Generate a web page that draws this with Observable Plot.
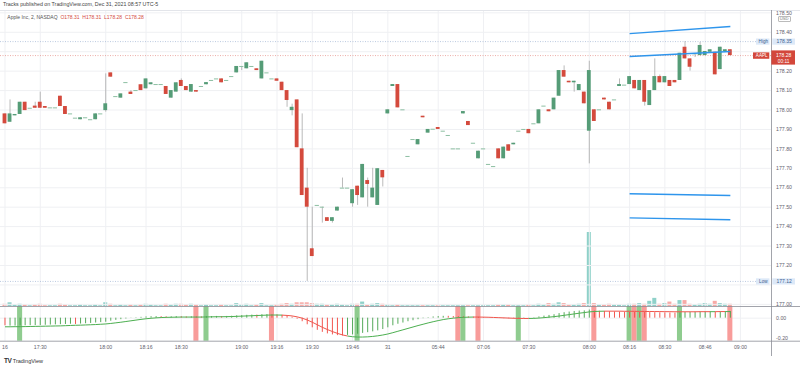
<!DOCTYPE html>
<html><head><meta charset="utf-8">
<script src="https://cdn.jsdelivr.net/npm/d3@7"></script>
<script src="https://cdn.jsdelivr.net/npm/@observablehq/plot@0.6"></script>
<style>
body{margin:0;background:#fff;}
#wrap{position:relative;width:800px;height:368px;overflow:hidden;font-family:"Liberation Sans",Arial,sans-serif;background:#fff;}
#wrap svg{position:absolute;left:0;}
.hd{position:absolute;white-space:nowrap;}
</style></head><body><div id="wrap"></div>
<script>
// ---------- data (2-minute bars, index 0..144) ----------
const opens = [177.980,177.937,177.970,177.977,178.040,178.009,178.020,178.040,178.018,178.011,
178.011,178.071,178.018,177.980,177.958,177.950,177.960,177.950,177.950,177.980,
177.997,178.191,178.069,178.061,178.141,178.092,178.100,178.130,178.109,178.130,
178.131,178.131,178.121,178.061,178.092,178.152,178.121,178.092,178.100,178.121,
178.130,178.152,178.160,178.160,178.152,178.172,178.191,178.224,178.212,178.224,
178.212,178.160,178.191,178.160,178.160,178.143,178.100,177.997,178.052,177.800,
177.598,177.286,177.509,177.500,177.446,177.427,177.480,177.598,177.598,177.518,
177.608,177.548,177.637,177.548,177.509,177.689,177.980,178.121,178.131,178.001,
177.761,177.848,177.821,177.968,177.881,177.901,177.910,177.891,177.869,177.800,
177.800,177.980,177.941,177.829,177.749,177.800,177.720,177.709,177.800,177.749,
177.821,177.821,177.891,177.900,177.900,177.929,177.929,178.020,178.001,178.001,
178.071,178.203,178.148,178.140,178.100,178.092,177.891,178.001,178.001,178.061,
178.040,178.052,178.121,178.128,178.131,178.152,178.100,178.152,178.023,178.100,
178.172,178.140,178.152,178.152,178.152,178.323,178.263,178.289,178.280,178.280,
178.297,178.297,178.208,178.301,178.310];
const closes = [177.929,177.980,177.977,178.040,177.997,178.009,178.009,178.009,178.009,178.011,
178.011,178.018,177.977,177.980,177.958,177.960,177.960,177.950,177.980,177.980,
178.032,178.169,178.069,178.083,178.141,178.080,178.100,178.100,178.160,178.140,
178.131,178.131,178.080,178.100,178.140,178.121,178.100,178.131,178.092,178.121,
178.141,178.152,178.160,178.140,178.152,178.172,178.224,178.224,178.243,178.224,
178.203,178.251,178.191,178.160,178.148,178.100,178.049,178.014,177.806,177.560,
177.500,177.246,177.509,177.500,177.427,177.446,177.500,177.598,177.598,177.590,
177.560,177.720,177.617,177.598,177.698,177.651,178.001,178.131,178.011,178.001,
177.761,177.848,177.848,177.960,177.900,177.901,177.900,177.891,177.869,177.800,
177.800,177.992,177.920,177.829,177.788,177.800,177.720,177.709,177.749,177.809,
177.788,177.829,177.891,177.900,177.878,177.929,178.001,178.020,177.991,178.061,
178.203,178.169,178.140,178.148,178.131,178.032,178.203,177.941,178.001,178.052,
178.001,178.052,178.131,178.128,178.172,178.109,178.152,178.040,178.100,178.172,
178.140,178.172,178.121,178.140,178.292,178.263,178.220,178.289,178.332,178.301,
178.310,178.181,178.323,178.310,178.280];
const highs = [177.980,178.052,177.977,178.040,178.040,178.009,178.040,178.092,178.018,178.011,
178.011,178.071,178.018,177.980,177.958,177.960,177.960,177.950,177.980,177.980,
178.186,178.191,178.069,178.083,178.141,178.100,178.100,178.130,178.160,178.140,
178.131,178.131,178.121,178.100,178.140,178.160,178.121,178.131,178.100,178.121,
178.141,178.152,178.160,178.160,178.152,178.172,178.224,178.224,178.243,178.224,
178.212,178.251,178.191,178.160,178.160,178.143,178.100,178.030,178.052,177.980,
177.700,177.500,177.509,177.500,177.446,177.446,177.500,177.650,177.598,177.590,
177.608,177.720,177.650,177.700,177.698,177.689,178.001,178.131,178.131,178.001,
177.761,177.848,177.848,177.968,177.900,177.901,177.910,177.891,177.869,177.800,
177.800,177.992,177.941,177.829,177.788,177.800,177.720,177.709,177.800,177.809,
177.821,177.829,177.891,177.900,177.900,177.929,178.001,178.020,178.001,178.061,
178.203,178.227,178.148,178.148,178.131,178.092,178.251,178.001,178.001,178.061,
178.040,178.052,178.160,178.128,178.172,178.152,178.152,178.152,178.100,178.263,
178.180,178.172,178.152,178.152,178.292,178.352,178.263,178.289,178.348,178.301,
178.310,178.297,178.323,178.310,178.310];
const lows = [177.929,177.937,177.970,177.977,177.997,178.009,178.009,178.009,178.009,178.011,
178.011,178.018,177.977,177.980,177.958,177.950,177.960,177.950,177.950,177.980,
177.989,178.169,178.069,178.061,178.141,178.080,178.100,178.100,178.109,178.130,
178.131,178.131,178.080,178.061,178.092,178.121,178.100,178.092,178.092,178.121,
178.130,178.152,178.160,178.140,178.152,178.172,178.191,178.203,178.212,178.224,
178.203,178.160,178.191,178.160,178.148,178.100,178.014,177.970,177.806,177.560,
177.118,177.246,177.509,177.418,177.427,177.418,177.480,177.598,177.598,177.500,
177.509,177.548,177.500,177.548,177.509,177.604,177.980,178.121,178.011,178.001,
177.761,177.848,177.821,177.960,177.881,177.901,177.900,177.891,177.869,177.800,
177.800,177.980,177.920,177.829,177.749,177.800,177.720,177.709,177.749,177.749,
177.788,177.821,177.891,177.900,177.878,177.929,177.929,178.020,177.991,178.001,
178.071,178.169,178.140,178.092,178.100,178.032,177.723,177.941,178.001,178.052,
178.001,178.052,178.121,178.128,178.131,178.109,178.100,178.020,178.023,178.100,
178.140,178.140,178.121,178.140,178.152,178.263,178.200,178.270,178.280,178.280,
178.297,178.181,178.208,178.301,178.280];
const volumes = [3,5,2,3,2,1,2,3,1,1, 1,3,2,1,1,2,1,1,2,1, 5,3,1,2,1,2,1,2,3,2,
1,1,3,2,3,3,2,3,2,1, 2,1,1,2,1,1,4,2,3,1, 2,4,1,1,2,3,4,3,5,5,
5,4,3,3,2,2,3,2,1,3, 3,6,2,3,4,3,2,1,2,1, 1,1,1,1,1,1,1,1,1,1,
1,1,1,1,1,1,1,1,2,2, 2,1,1,1,2,1,3,2,4,3, 5,4,2,2,3,4,100,4,2,2,
3,2,2,1,3,3,4,3,7,11, 3,4,6,3,8,8,3,2,3,4, 3,7,4,3,3];
// oscillator histogram, its colour flags and the slower signal line
const oscValues = [-0.075,-0.078,-0.078,-0.076,-0.075,-0.074,-0.073,-0.072,-0.070,-0.068,
-0.066,-0.064,-0.062,-0.060,-0.062,-0.058,-0.055,-0.052,-0.048,-0.044,
-0.040,-0.030,-0.022,-0.015,-0.008,-0.002,0.004,0.008,0.012,0.014,
0.015,0.015,0.013,0.013,0.015,0.014,0.012,0.013,0.012,0.012,
0.014,0.016,0.017,0.016,0.017,0.019,0.023,0.025,0.028,0.030,
0.030,0.034,0.035,0.034,0.032,0.028,0.020,0.010,-0.010,-0.035,
-0.065,-0.095,-0.120,-0.140,-0.155,-0.165,-0.172,-0.175,-0.170,-0.165,
-0.158,-0.150,-0.143,-0.135,-0.125,-0.112,-0.095,-0.075,-0.060,-0.048,
-0.035,-0.025,-0.015,-0.005,0.005,0.012,0.016,0.018,0.018,0.016,
0.014,0.013,0.012,0.010,0.008,0.006,0.003,0.000,-0.003,-0.005,
-0.007,-0.008,-0.008,-0.006,-0.002,0.004,0.012,0.020,0.027,0.034,
0.045,0.054,0.060,0.066,0.070,0.072,0.080,0.070,0.068,0.066,
0.064,0.062,0.061,0.060,0.059,0.058,0.057,0.056,0.055,0.054,
0.053,0.052,0.051,0.050,0.053,0.056,0.058,0.060,0.062,0.063,
0.064,0.062,0.064,0.065,0.065];
const oscColors = ("rggggggggg"+"ggggrggggg"+"gggggggggg"+"grrggrrgrr"+"gggrgggggg"+
"rggrrrrrrr"+"rrrrrrrrgg"+"gggggggggg"+"ggggggggrr"+"rrrrrrrrrr"+
"rrrggggggg"+"gggggggrrr"+"rrrrrrrrrr"+"rrrrgggggg"+"grggg").split("");
const signalValues = [-0.085,-0.085,-0.084,-0.084,-0.083,-0.082,-0.081,-0.080,-0.079,-0.078,
-0.077,-0.076,-0.074,-0.072,-0.070,-0.069,-0.067,-0.065,-0.063,-0.060,
-0.057,-0.052,-0.046,-0.040,-0.033,-0.026,-0.019,-0.012,-0.006,-0.001,
0.003,0.006,0.008,0.009,0.010,0.011,0.011,0.011,0.011,0.011,
0.012,0.013,0.014,0.014,0.015,0.016,0.018,0.020,0.022,0.024,
0.026,0.028,0.030,0.031,0.031,0.030,0.027,0.022,0.013,0.000,
-0.018,-0.040,-0.065,-0.090,-0.112,-0.132,-0.150,-0.165,-0.176,-0.183,
-0.186,-0.186,-0.184,-0.180,-0.174,-0.166,-0.156,-0.143,-0.129,-0.115,
-0.101,-0.087,-0.073,-0.060,-0.047,-0.035,-0.024,-0.014,-0.006,0.000,
0.005,0.008,0.010,0.011,0.011,0.010,0.009,0.007,0.005,0.003,
0.001,-0.001,-0.002,-0.003,-0.003,-0.002,0.001,0.005,0.010,0.015,
0.021,0.028,0.035,0.042,0.049,0.055,0.062,0.066,0.068,0.069,
0.069,0.069,0.069,0.068,0.068,0.067,0.067,0.066,0.066,0.065,
0.065,0.064,0.064,0.063,0.063,0.063,0.063,0.063,0.064,0.064,
0.064,0.064,0.065,0.065,0.065];
const signalBarIndex = [3,38,40,53,70,90,91,94,102,117,124,125,126,127,134,144];
const signalBarColor = ["g","r","g","r","g","r","g","r","g","r","g","r","g","r","g","r"];
const tickIndex = [0,7,20,28,35,47,54,61,69,76,86,95,104,116,124,131,139,146];
const tickLabels = ["16","17:30","18:00","18:16","18:30","19:00","19:16","19:30","19:46","31","05:44","07:06","07:30","08:00","08:16","08:30","08:46","09:00"];
const priceTicks = [177.0,177.1,177.2,177.3,177.4,177.5,177.6,177.7,177.8,177.9,178.0,178.1,178.2,178.3,178.4,178.5];
const priceLabelTicks = [177.0,177.2,177.3,177.4,177.5,177.6,177.7,177.8,177.9,178.0,178.1,178.2,178.4,178.5];
const oscTicks = [0,-0.2];
// user-drawn trend lines: start bar, start price, end bar, end price
const lineStartBar = [124,124,124,124];
const lineStartPrice = [178.393,178.275,177.569,177.445];
const lineEndBar = [144,144,144,144];
const lineEndPrice = [178.430,178.301,177.560,177.435];

// ---------- layout ----------
const X0 = -0.893, X1 = 152.17, FRAME_W = 771;
const yMain = [176.989, 178.512];
const yOsc = [-0.227, 0.115];
const MAIN_TOP = 10, MAIN_H = 296;
const ix = px => X0 + px / FRAME_W * (X1 - X0);                  // page px -> bar index
const pMain = py => yMain[1] - (py - MAIN_TOP) / MAIN_H * (yMain[1] - yMain[0]); // page y -> price
const OSC_TOP = 305, OSC_MT = 1, OSC_IH = 34.7, OSC_H = 63;
const pOsc = py => yOsc[1] - (py - OSC_TOP - OSC_MT) / OSC_IH * (yOsc[1] - yOsc[0]);

const UP = "#559c77", DN = "#d44a3d", WICK = "#a8a8a8", GRID = "#eff0f3";
const FONT = "'Liberation Sans', Arial, sans-serif";
const AX = "#5f626d";
const FS = "5.2px";

const candles = opens.map((o, i) => ({i, o, c: closes[i], h: highs[i], l: lows[i], v: volumes[i]}));
const hi = d3.max(highs), lo = d3.min(lows), last = closes[closes.length - 1];
const wrap = document.getElementById("wrap");

// volume overlay
const vol = Plot.plot({
  width: 800, height: MAIN_H, marginLeft: 0, marginRight: 29, marginTop: 0, marginBottom: 0,
  style: {background: "transparent"},
  x: {type: "linear", domain: [X0, X1], axis: null},
  y: {domain: [0, 400], axis: null},
  marks: [
    Plot.rect(candles, {x1: d => d.i - 0.4, x2: d => d.i + 0.4, y1: () => 0, y2: "v",
      fill: d => d.c >= d.o ? "#8fd1c9" : "#f7aaa6"})
  ]
});

const main = Plot.plot({
  width: 800, height: MAIN_H, marginLeft: 0, marginRight: 29, marginTop: 0, marginBottom: 0,
  style: {background: "transparent", fontFamily: FONT, fontSize: FS, color: AX},
  x: {type: "linear", domain: [X0, X1], axis: null},
  y: {domain: yMain, axis: null},
  marks: [
    Plot.ruleY(priceTicks, {stroke: GRID}),
    Plot.ruleX(tickIndex, {stroke: GRID}),
    Plot.ruleY([yMain[1]], {x1: () => X0, x2: () => ix(800), stroke: "#e3e5ea"}),
    Plot.ruleY([hi, lo], {x1: () => X0, x2: () => ix(757), stroke: "#9fb3d3", strokeDasharray: "1,1.5", strokeWidth: 0.7}),
    Plot.ruleY([last], {x1: () => X0, x2: () => X1, stroke: "#e58a82", strokeDasharray: "1,1.5", strokeWidth: 0.7}),
    Plot.ruleX(candles.filter(d => d.h > d.l), {x: "i", y1: "l", y2: "h", stroke: WICK, strokeWidth: 0.8}),
    Plot.rect(candles.filter(d => d.o !== d.c), {x1: d => d.i - 0.38, x2: d => d.i + 0.38, y1: "o", y2: "c",
      fill: d => d.c > d.o ? UP : DN}),
    Plot.ruleY(candles.filter(d => d.o === d.c), {y: "c", x1: d => d.i - 0.42, x2: d => d.i + 0.42, stroke: "#8dbfa3", strokeWidth: 1}),
    Plot.link(lineStartBar.map((s, k) => ({s, sp: lineStartPrice[k], e: lineEndBar[k], ep: lineEndPrice[k]})),
      {x1: "s", y1: "sp", x2: "e", y2: "ep", stroke: "#2e95ec", strokeWidth: 1.4}),
    Plot.axisY({anchor: "right", ticks: priceLabelTicks, tickFormat: d => d.toFixed(2), tickSize: 0, tickPadding: 4.6}),
    Plot.ruleX([X1], {stroke: "#8a8d96", strokeWidth: 0.8}),
    // price labels on the scale
    Plot.ruleY([hi, lo], {x1: () => ix(756), x2: () => ix(769.5), stroke: "#dde9f8", strokeWidth: 6.2}),
    Plot.ruleY([hi, lo], {x1: () => ix(772.3), x2: () => ix(795), stroke: "#dde9f8", strokeWidth: 6.2}),
    Plot.text([hi, lo], {x: () => ix(762.8), y: d => d, text: (d, k) => k === 0 ? "High" : "Low", fill: "#3f5f8f", fontSize: 4.6}),
    Plot.text([hi, lo], {x: () => ix(783.6), y: d => d, text: d => d.toFixed(2), fill: "#3f5f8f", fontSize: 5}),
    Plot.ruleY([last], {x1: () => ix(753), x2: () => ix(769.3), stroke: "#d3473b", strokeWidth: 6.4}),
    Plot.text([last], {x: () => ix(761.2), y: d => d, text: () => "AAPL", fill: "white", fontSize: 4.6}),
    Plot.rect([last], {x1: () => ix(771.3), x2: () => ix(795), y1: () => pMain(50.4), y2: () => pMain(64.6), fill: "#d3473b"}),
    Plot.text([last], {x: () => ix(783.2), y: d => d, text: d => d.toFixed(2), fill: "white", fontSize: 5}),
    Plot.text([last], {x: () => ix(783.2), y: () => pMain(61), text: () => "00:11", fill: "white", fontSize: 4.8})
  ]
});

const bands = signalBarIndex.map((i, k) => ({i, c: signalBarColor[k]}));
const osc = oscValues.map((v, i) => ({i, v, c: oscColors[i], s: signalValues[i]}));
const segs = osc.slice(1).map((d, k) => ({a: k, sa: osc[k].s, b: d.i, sb: d.s, red: osc[k].s > osc[k].v}));

const oscPlot = Plot.plot({
  width: 800, height: OSC_H, marginLeft: 0, marginRight: 29, marginTop: OSC_MT, marginBottom: OSC_H - OSC_MT - OSC_IH,
  style: {background: "transparent", fontFamily: FONT, fontSize: FS, color: AX},
  x: {type: "linear", domain: [X0, X1]},
  y: {domain: yOsc},
  marks: [
    Plot.ruleX(tickIndex, {y1: () => yOsc[0], y2: () => yOsc[1], stroke: GRID}),
    Plot.ruleY([0], {stroke: GRID}),
    Plot.rect(bands, {x1: d => d.i - 0.5, x2: d => d.i + 0.5, y1: () => yOsc[0], y2: () => yOsc[1],
      fill: d => d.c === "g" ? "#8fcc8f" : "#f89c9a"}),
    Plot.ruleX(osc, {x: "i", y1: () => 0, y2: "v", stroke: d => d.c === "g" ? "#43a047" : "#f0443c", strokeWidth: 0.9}),
    Plot.link(segs, {x1: "a", y1: "sa", x2: "b", y2: "sb", stroke: d => d.red ? "#f0554c" : "#4caf50", strokeWidth: 1}),
    Plot.axisY({anchor: "right", ticks: oscTicks, tickFormat: d => d.toFixed(2), tickSize: 0, tickPadding: 4.6}),
    Plot.axisX({ticks: tickIndex, tickFormat: d => tickLabels[tickIndex.indexOf(d)], tickSize: 0, tickPadding: 4.2}),
    Plot.ruleY([yOsc[0], yOsc[1]], {x1: () => X0, x2: () => ix(800), stroke: "#8a8d96", strokeWidth: 0.8}),
    Plot.ruleX([X1], {y1: () => pOsc(356), y2: () => yOsc[1], stroke: "#8a8d96", strokeWidth: 0.8})
  ]
});

vol.style.top = MAIN_TOP + "px";
main.style.top = MAIN_TOP + "px";
oscPlot.style.top = OSC_TOP + "px";
wrap.appendChild(vol);
wrap.appendChild(main);
wrap.appendChild(oscPlot);

// header, legend, currency and logo
function addText(html, left, top, size, color, extra) {
  const d = document.createElement("div");
  d.className = "hd";
  d.style.left = left + "px"; d.style.top = top + "px";
  d.style.fontSize = size + "px"; d.style.color = color; d.style.lineHeight = "1";
  if (extra) Object.assign(d.style, extra);
  d.innerHTML = html;
  wrap.appendChild(d);
  return d;
}
addText("Tracks published on TradingView.com, Dec 31, 2021 08:57 UTC-5", 3, 2.2, 5.3, "#444");
addText("Apple Inc, 2, NASDAQ&nbsp; <span style='color:#d44a3d'>O" + opens[144].toFixed(2) + "&nbsp; H" + highs[144].toFixed(2) +
  "&nbsp; L" + lows[144].toFixed(2) + "&nbsp; C" + closes[144].toFixed(2) + "</span>", 7.3, 15, 5, "#555");
addText("USD", 777.5, 15.5, 4.2, "#777", {border: "0.5px solid #bbb", borderRadius: "1px", padding: "0.4px 1.2px"});
addText("<b style='font-size:6.5px;letter-spacing:-0.5px'>TV</b> TradingView", 4, 357.5, 5.5, "#333");
</script></body></html>
